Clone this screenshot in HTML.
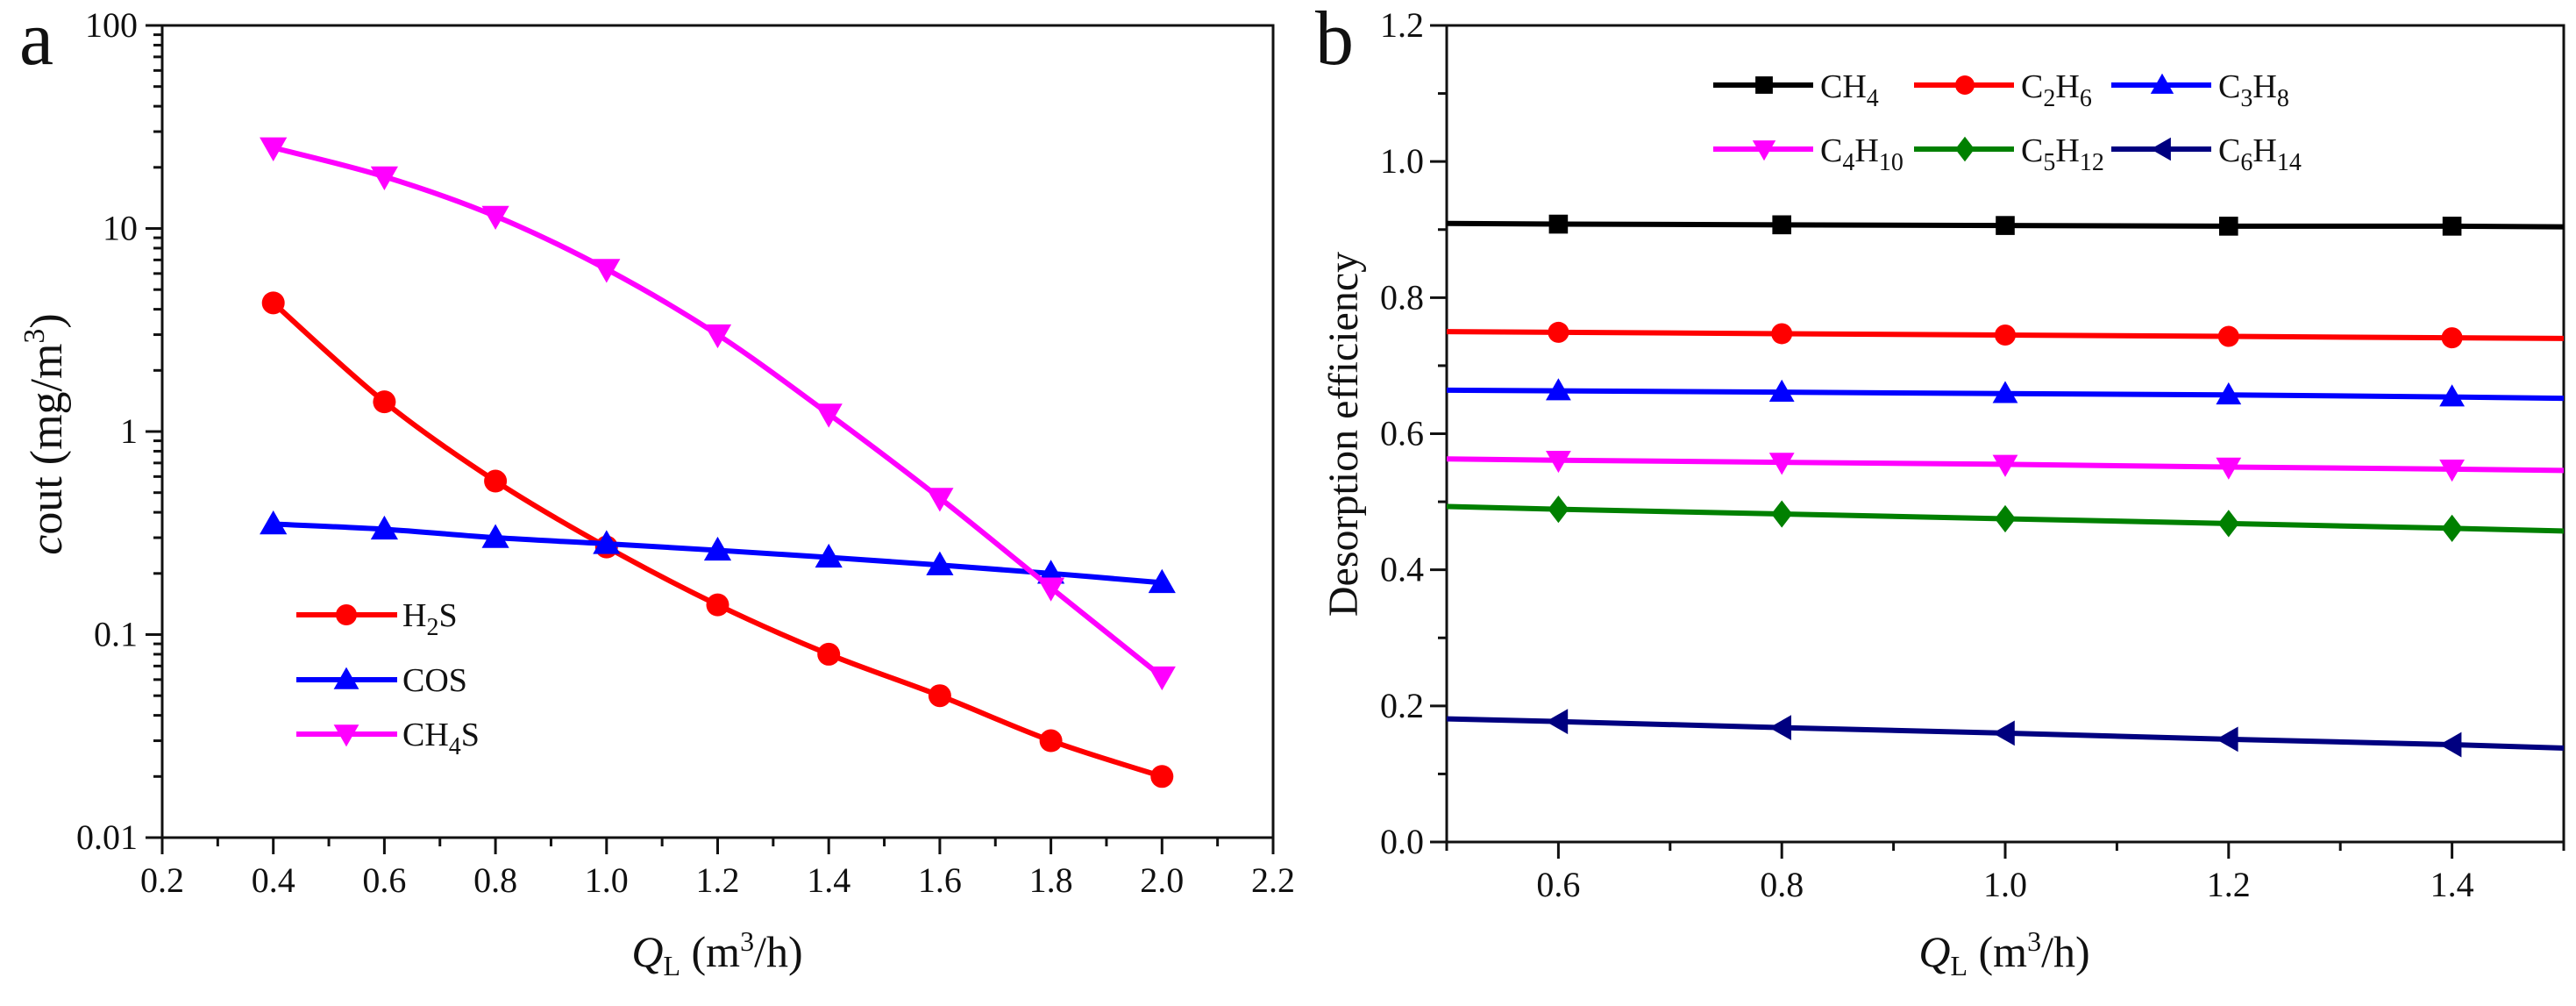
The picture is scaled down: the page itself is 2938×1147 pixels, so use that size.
<!DOCTYPE html>
<html><head><meta charset="utf-8"><style>
html,body{margin:0;padding:0;background:#fff;}
svg text{font-family:"Liberation Serif",serif;fill:#111;}
</style></head><body>
<svg id="fig" width="2938" height="1142" viewBox="0 0 2938 1142" xmlns="http://www.w3.org/2000/svg">
<rect width="2938" height="1142" fill="#fff"/>
<g id="pa"></g>
<g id="pb"></g>
</svg>
<script>
// Panel a data
const aX = [0.4,0.6,0.8,1.0,1.2,1.4,1.6,1.8,2.0];
const aH2S = [4.3,1.4,0.57,0.27,0.14,0.08,0.05,0.03,0.02];
const aCOS = [0.35,0.33,0.30,0.28,0.26,0.24,0.22,0.20,0.18];
const aCH4S = [25,18,11.5,6.3,3.0,1.22,0.47,0.17,0.062];
const aXTicks = ["0.2","0.4","0.6","0.8","1.0","1.2","1.4","1.6","1.8","2.0","2.2"];
const aYTicks = ["0.01","0.1","1","10","100"];
// Panel b data
const bLineX = [0.5,0.6,0.8,1.0,1.2,1.4,1.5];
const bCH4 = [0.909,0.908,0.907,0.906,0.905,0.905,0.904];
const bC2H6 = [0.750,0.749,0.747,0.745,0.743,0.741,0.740];
const bC3H8 = [0.664,0.663,0.661,0.659,0.657,0.654,0.652];
const bC4H10 = [0.563,0.561,0.558,0.555,0.551,0.548,0.546];
const bC5H12 = [0.493,0.489,0.482,0.475,0.468,0.461,0.457];
const bC6H14 = [0.181,0.177,0.168,0.160,0.151,0.143,0.138];
const bXTicks = ["0.6","0.8","1.0","1.2","1.4"];
const bYTicks = ["0.0","0.2","0.4","0.6","0.8","1.0","1.2"];

const NS="http://www.w3.org/2000/svg";
function mk(parent,tag,attrs,text){const e=document.createElementNS(NS,tag);for(const k in attrs)e.setAttribute(k,attrs[k]);if(text!==undefined)e.textContent=text;parent.appendChild(e);return e;}

// axes a
const aL=185,aR=1452,aT=29,aB=955;
const axA=v=>aL+(v-0.2)/2.0*(aR-aL);
const ayA=v=>aB-(Math.log10(v)+2)/4*(aB-aT);
// axes b
const bL=1650,bR=2924,bT=29,bB=960;
const axB=v=>bL+(v-0.5)/1.0*(bR-bL);
const ayB=v=>bB-v/1.2*(bB-bT);

function smoothPath(pts){
  let d="M"+pts[0][0]+","+pts[0][1];
  for(let i=0;i<pts.length-1;i++){
    const p0=pts[Math.max(i-1,0)],p1=pts[i],p2=pts[i+1],p3=pts[Math.min(i+2,pts.length-1)];
    const c1=[p1[0]+(p2[0]-p0[0])/6,p1[1]+(p2[1]-p0[1])/6];
    const c2=[p2[0]-(p3[0]-p1[0])/6,p2[1]-(p3[1]-p1[1])/6];
    d+=" C"+c1[0]+","+c1[1]+" "+c2[0]+","+c2[1]+" "+p2[0]+","+p2[1];
  }
  return d;
}
function marker(g,type,x,y,color,s){
  let e;
  if(type==="circle") e=mk(g,"circle",{cx:x,cy:y,r:s*0.5,fill:color});
  else if(type==="square") e=mk(g,"rect",{x:x-s*0.45,y:y-s*0.45,width:s*0.9,height:s*0.9,fill:color});
  else if(type==="up") e=mk(g,"polygon",{points:`${x},${y-s*0.6} ${x-s*0.6},${y+s*0.45} ${x+s*0.6},${y+s*0.45}`,fill:color});
  else if(type==="down") e=mk(g,"polygon",{points:`${x},${y+s*0.6} ${x-s*0.6},${y-s*0.45} ${x+s*0.6},${y-s*0.45}`,fill:color});
  else if(type==="diamond") e=mk(g,"polygon",{points:`${x},${y-s*0.65} ${x+s*0.5},${y} ${x},${y+s*0.65} ${x-s*0.5},${y}`,fill:color});
  else if(type==="left") e=mk(g,"polygon",{points:`${x-s*0.6},${y} ${x+s*0.45},${y-s*0.6} ${x+s*0.45},${y+s*0.6}`,fill:color});
  return e;
}

// ---------- Panel A ----------
const pa=document.getElementById("pa");
const lblA=mk(pa,"text",{x:22,y:73,"font-size":88},"a");


const frA=mk(pa,"rect",{x:aL,y:aT,width:aR-aL,height:aB-aT,fill:"none",stroke:"#111","stroke-width":3});


aXTicks.forEach((t,i)=>{
  const v=parseFloat(t),x=axA(v);
  const tk=mk(pa,"line",{x1:x,y1:aB,x2:x,y2:aB+19,stroke:"#111","stroke-width":3});
  
  
  if(i<aXTicks.length-1){const xm=axA(v+0.1);const m=mk(pa,"line",{x1:xm,y1:aB,x2:xm,y2:aB+10,stroke:"#111","stroke-width":3});}
  const tl=mk(pa,"text",{x:x,y:1017,"font-size":40,"text-anchor":"middle"},t);
  
  
});
aYTicks.forEach((t,i)=>{
  const v=parseFloat(t),y=ayA(v);
  const tk=mk(pa,"line",{x1:aL,y1:y,x2:aL-19,y2:y,stroke:"#111","stroke-width":3});
  
  
  if(i<aYTicks.length-1){for(let k=2;k<=9;k++){const ym=ayA(v*k);const m=mk(pa,"line",{x1:aL,y1:ym,x2:aL-10,y2:ym,stroke:"#111","stroke-width":3});}}
  const tl=mk(pa,"text",{x:aL-28,y:y+13,"font-size":40,"text-anchor":"end"},t);
  
  
});
const xtA=mk(pa,"text",{x:818,y:1102,"font-size":50,"text-anchor":"middle"});


xtA.innerHTML='<tspan font-style="italic">Q</tspan><tspan font-size="32" dy="10">L</tspan><tspan dy="-10"> (m</tspan><tspan font-size="32" dy="-18">3</tspan><tspan dy="18">/h)</tspan>';
const ytA=mk(pa,"text",{x:0,y:0,"font-size":52,"text-anchor":"middle",transform:"translate(70,495) rotate(-90)"});


ytA.innerHTML='<tspan font-style="italic">c</tspan>out (mg/m<tspan font-size="34" dy="-20">3</tspan><tspan dy="20">)</tspan>';

const seriesA=[["h2s",aH2S,"#ff0000","circle"],["cos",aCOS,"#0000ff","up"],["ch4s",aCH4S,"#ff00ff","down"]];
seriesA.forEach(([nm,vals,col,mt])=>{
  const g=mk(pa,"g",{});
  
  
  const pts=aX.map((x,i)=>[axA(x),ayA(vals[i])]);
  const p=mk(g,"path",{d:smoothPath(pts),fill:"none",stroke:col,"stroke-width":6});
  
  
  pts.forEach(pt=>{const m=marker(g,mt,pt[0],pt[1],col,26);});
});
const legA=[["h2s","#ff0000","circle",701,'H<tspan font-size="28" dy="10">2</tspan><tspan dy="-10">S</tspan>'],["cos","#0000ff","up",775,'COS'],["ch4s","#ff00ff","down",837,'CH<tspan font-size="28" dy="10">4</tspan><tspan dy="-10">S</tspan>']];
legA.forEach(([nm,col,mt,y,lab])=>{
  const g=mk(pa,"g",{});
  
  
  mk(g,"line",{x1:338,y1:y,x2:453,y2:y,stroke:col,"stroke-width":6});
  marker(g,mt,395,y,col,24);
  const t=mk(g,"text",{x:459,y:y+13,"font-size":38});t.innerHTML=lab;
});

// ---------- Panel B ----------
const pb=document.getElementById("pb");
const lblB=mk(pb,"text",{x:1500,y:73,"font-size":88},"b");


const frB=mk(pb,"rect",{x:bL,y:bT,width:bR-bL,height:bB-bT,fill:"none",stroke:"#111","stroke-width":3});


bXTicks.forEach(t=>{
  const v=parseFloat(t),x=axB(v);
  const tk=mk(pb,"line",{x1:x,y1:bB,x2:x,y2:bB+19,stroke:"#111","stroke-width":3});
  
  
  const tl=mk(pb,"text",{x:x,y:1022,"font-size":40,"text-anchor":"middle"},t);
  
  
});
[0.5,0.7,0.9,1.1,1.3,1.5].forEach(v=>{const x=axB(v);const m=mk(pb,"line",{x1:x,y1:bB,x2:x,y2:bB+10,stroke:"#111","stroke-width":3});});
bYTicks.forEach((t,i)=>{
  const v=parseFloat(t),y=ayB(v);
  const tk=mk(pb,"line",{x1:bL,y1:y,x2:bL-19,y2:y,stroke:"#111","stroke-width":3});
  
  
  if(i<bYTicks.length-1){const ym=ayB(v+0.1);const m=mk(pb,"line",{x1:bL,y1:ym,x2:bL-10,y2:ym,stroke:"#111","stroke-width":3});}
  const tl=mk(pb,"text",{x:bL-26,y:y+13,"font-size":40,"text-anchor":"end"},t);
  
  
});
const xtB=mk(pb,"text",{x:2286,y:1102,"font-size":50,"text-anchor":"middle"});


xtB.innerHTML='<tspan font-style="italic">Q</tspan><tspan font-size="32" dy="10">L</tspan><tspan dy="-10"> (m</tspan><tspan font-size="32" dy="-18">3</tspan><tspan dy="18">/h)</tspan>';
const ytB=mk(pb,"text",{x:0,y:0,"font-size":48,"text-anchor":"middle",transform:"translate(1548,495) rotate(-90)"},"Desorption efficiency");



const seriesB=[["ch4",bCH4,"#000000","square"],["c2h6",bC2H6,"#ff0000","circle"],["c3h8",bC3H8,"#0000ff","up"],["c4h10",bC4H10,"#ff00ff","down"],["c5h12",bC5H12,"#008000","diamond"],["c6h14",bC6H14,"#000080","left"]];
seriesB.forEach(([nm,vals,col,mt])=>{
  const g=mk(pb,"g",{});
  
  
  const pts=bLineX.map((x,i)=>[axB(x),ayB(vals[i])]);
  const p=mk(g,"polyline",{points:pts.map(p=>p.join(",")).join(" "),fill:"none",stroke:col,"stroke-width":6});
  
  
  pts.slice(1,-1).forEach(pt=>{const m=marker(g,mt,pt[0],pt[1],col,24);});
});
const sub=(a,b,c)=>`${a}<tspan font-size="28" dy="10">${b}</tspan><tspan dy="-10">H</tspan><tspan font-size="28" dy="10">${c}</tspan>`;
const legB=[
 ["ch4","#000000","square",1954,97,'CH<tspan font-size="28" dy="10">4</tspan>'],
 ["c2h6","#ff0000","circle",2183,97,sub("C","2","6")],
 ["c3h8","#0000ff","up",2408,97,sub("C","3","8")],
 ["c4h10","#ff00ff","down",1954,170,sub("C","4","10")],
 ["c5h12","#008000","diamond",2183,170,sub("C","5","12")],
 ["c6h14","#000080","left",2408,170,sub("C","6","14")]];
legB.forEach(([nm,col,mt,x,y,lab])=>{
  const g=mk(pb,"g",{});
  
  
  mk(g,"line",{x1:x,y1:y,x2:x+114,y2:y,stroke:col,"stroke-width":6});
  marker(g,mt,x+58,y,col,22);
  const t=mk(g,"text",{x:x+122,y:y+14,"font-size":38});t.innerHTML=lab;
});
</script>
</body></html>
